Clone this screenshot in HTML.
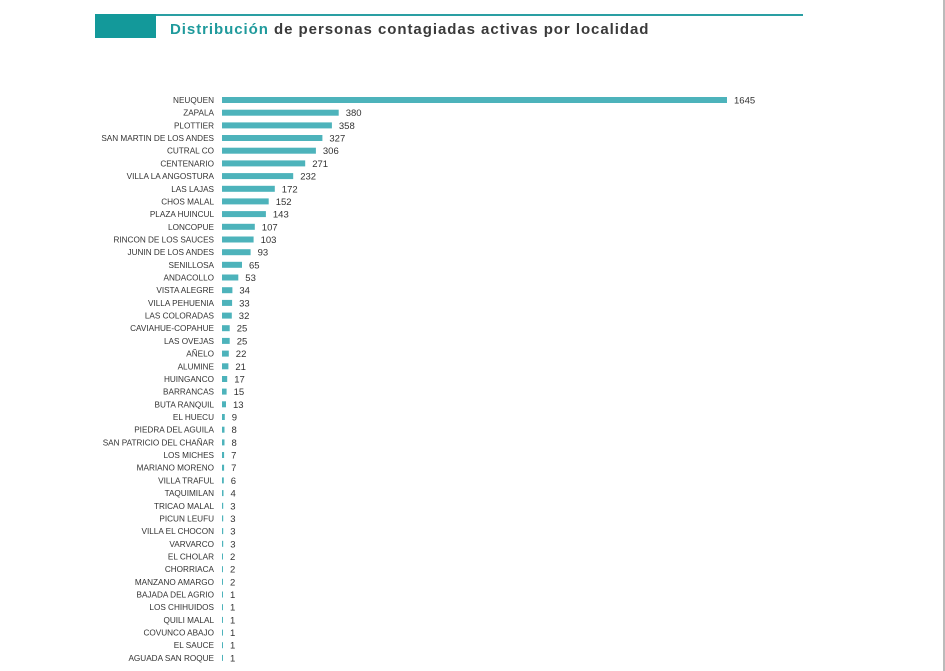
<!DOCTYPE html>
<html><head><meta charset="utf-8"><style>
html,body{margin:0;padding:0;background:#fff;}
svg{display:block;}
.l{font:8.2px "Liberation Sans",sans-serif;fill:#333;text-anchor:end;}
.v{font:9.5px "Liberation Sans",sans-serif;fill:#333;}
rect.b{fill:#4db3bb;}
</style></head><body>
<svg width="945" height="671" viewBox="0 0 945 671">
<rect x="0" y="0" width="945" height="671" fill="#fff"/>
<line x1="944" y1="0" x2="944" y2="671" stroke="#777" stroke-width="1"/>
<rect x="95" y="14" width="61" height="24" fill="#13999a"/>
<rect x="156" y="14" width="647" height="2" fill="#2a9fa3"/>
<text x="170" y="34" font-family="Liberation Sans,sans-serif" font-weight="bold" font-size="15" letter-spacing="0.95"><tspan fill="#1f9a9c">Distribución</tspan><tspan fill="#3a3a3a"> de personas contagiadas activas por localidad</tspan></text>
<g id="rows">
<g transform="translate(0,100)"><text class="l" x="214" y="3">NEUQUEN</text><rect class="b" x="222" y="-3" width="505" height="6"/><text class="v" x="734" y="3.5">1645</text></g>
<g transform="translate(0,112.7)"><text class="l" x="214" y="3">ZAPALA</text><rect class="b" x="222" y="-3" width="116.7" height="6"/><text class="v" x="345.7" y="3.5">380</text></g>
<g transform="translate(0,125.4)"><text class="l" x="214" y="3">PLOTTIER</text><rect class="b" x="222" y="-3" width="109.9" height="6"/><text class="v" x="338.9" y="3.5">358</text></g>
<g transform="translate(0,138)"><text class="l" x="214" y="3">SAN MARTIN DE LOS ANDES</text><rect class="b" x="222" y="-3" width="100.4" height="6"/><text class="v" x="329.4" y="3.5">327</text></g>
<g transform="translate(0,150.7)"><text class="l" x="214" y="3">CUTRAL CO</text><rect class="b" x="222" y="-3" width="93.9" height="6"/><text class="v" x="322.9" y="3.5">306</text></g>
<g transform="translate(0,163.4)"><text class="l" x="214" y="3">CENTENARIO</text><rect class="b" x="222" y="-3" width="83.2" height="6"/><text class="v" x="312.2" y="3.5">271</text></g>
<g transform="translate(0,176.1)"><text class="l" x="214" y="3">VILLA LA ANGOSTURA</text><rect class="b" x="222" y="-3" width="71.2" height="6"/><text class="v" x="300.2" y="3.5">232</text></g>
<g transform="translate(0,188.8)"><text class="l" x="214" y="3">LAS LAJAS</text><rect class="b" x="222" y="-3" width="52.8" height="6"/><text class="v" x="281.8" y="3.5">172</text></g>
<g transform="translate(0,201.4)"><text class="l" x="214" y="3">CHOS MALAL</text><rect class="b" x="222" y="-3" width="46.7" height="6"/><text class="v" x="275.7" y="3.5">152</text></g>
<g transform="translate(0,214.1)"><text class="l" x="214" y="3">PLAZA HUINCUL</text><rect class="b" x="222" y="-3" width="43.9" height="6"/><text class="v" x="272.9" y="3.5">143</text></g>
<g transform="translate(0,226.8)"><text class="l" x="214" y="3">LONCOPUE</text><rect class="b" x="222" y="-3" width="32.8" height="6"/><text class="v" x="261.8" y="3.5">107</text></g>
<g transform="translate(0,239.5)"><text class="l" x="214" y="3">RINCON DE LOS SAUCES</text><rect class="b" x="222" y="-3" width="31.6" height="6"/><text class="v" x="260.6" y="3.5">103</text></g>
<g transform="translate(0,252.2)"><text class="l" x="214" y="3">JUNIN DE LOS ANDES</text><rect class="b" x="222" y="-3" width="28.6" height="6"/><text class="v" x="257.6" y="3.5">93</text></g>
<g transform="translate(0,264.8)"><text class="l" x="214" y="3">SENILLOSA</text><rect class="b" x="222" y="-3" width="20" height="6"/><text class="v" x="249" y="3.5">65</text></g>
<g transform="translate(0,277.5)"><text class="l" x="214" y="3">ANDACOLLO</text><rect class="b" x="222" y="-3" width="16.3" height="6"/><text class="v" x="245.3" y="3.5">53</text></g>
<g transform="translate(0,290.2)"><text class="l" x="214" y="3">VISTA ALEGRE</text><rect class="b" x="222" y="-3" width="10.4" height="6"/><text class="v" x="239.4" y="3.5">34</text></g>
<g transform="translate(0,302.9)"><text class="l" x="214" y="3">VILLA PEHUENIA</text><rect class="b" x="222" y="-3" width="10.1" height="6"/><text class="v" x="239.1" y="3.5">33</text></g>
<g transform="translate(0,315.6)"><text class="l" x="214" y="3">LAS COLORADAS</text><rect class="b" x="222" y="-3" width="9.8" height="6"/><text class="v" x="238.8" y="3.5">32</text></g>
<g transform="translate(0,328.2)"><text class="l" x="214" y="3">CAVIAHUE-COPAHUE</text><rect class="b" x="222" y="-3" width="7.7" height="6"/><text class="v" x="236.7" y="3.5">25</text></g>
<g transform="translate(0,340.9)"><text class="l" x="214" y="3">LAS OVEJAS</text><rect class="b" x="222" y="-3" width="7.7" height="6"/><text class="v" x="236.7" y="3.5">25</text></g>
<g transform="translate(0,353.6)"><text class="l" x="214" y="3">AÑELO</text><rect class="b" x="222" y="-3" width="6.8" height="6"/><text class="v" x="235.8" y="3.5">22</text></g>
<g transform="translate(0,366.3)"><text class="l" x="214" y="3">ALUMINE</text><rect class="b" x="222" y="-3" width="6.4" height="6"/><text class="v" x="235.4" y="3.5">21</text></g>
<g transform="translate(0,379)"><text class="l" x="214" y="3">HUINGANCO</text><rect class="b" x="222" y="-3" width="5.2" height="6"/><text class="v" x="234.2" y="3.5">17</text></g>
<g transform="translate(0,391.6)"><text class="l" x="214" y="3">BARRANCAS</text><rect class="b" x="222" y="-3" width="4.6" height="6"/><text class="v" x="233.6" y="3.5">15</text></g>
<g transform="translate(0,404.3)"><text class="l" x="214" y="3">BUTA RANQUIL</text><rect class="b" x="222" y="-3" width="4" height="6"/><text class="v" x="233" y="3.5">13</text></g>
<g transform="translate(0,417)"><text class="l" x="214" y="3">EL HUECU</text><rect class="b" x="222" y="-3" width="2.8" height="6"/><text class="v" x="231.8" y="3.5">9</text></g>
<g transform="translate(0,429.7)"><text class="l" x="214" y="3">PIEDRA DEL AGUILA</text><rect class="b" x="222" y="-3" width="2.5" height="6"/><text class="v" x="231.5" y="3.5">8</text></g>
<g transform="translate(0,442.4)"><text class="l" x="214" y="3">SAN PATRICIO DEL CHAÑAR</text><rect class="b" x="222" y="-3" width="2.5" height="6"/><text class="v" x="231.5" y="3.5">8</text></g>
<g transform="translate(0,455)"><text class="l" x="214" y="3">LOS MICHES</text><rect class="b" x="222" y="-3" width="2.1" height="6"/><text class="v" x="231.1" y="3.5">7</text></g>
<g transform="translate(0,467.7)"><text class="l" x="214" y="3">MARIANO MORENO</text><rect class="b" x="222" y="-3" width="2.1" height="6"/><text class="v" x="231.1" y="3.5">7</text></g>
<g transform="translate(0,480.4)"><text class="l" x="214" y="3">VILLA TRAFUL</text><rect class="b" x="222" y="-3" width="1.8" height="6"/><text class="v" x="230.8" y="3.5">6</text></g>
<g transform="translate(0,493.1)"><text class="l" x="214" y="3">TAQUIMILAN</text><rect class="b" x="222" y="-3" width="1.5" height="6"/><text class="v" x="230.5" y="3.5">4</text></g>
<g transform="translate(0,505.8)"><text class="l" x="214" y="3">TRICAO MALAL</text><rect class="b" x="222" y="-3" width="1.2" height="6"/><text class="v" x="230.2" y="3.5">3</text></g>
<g transform="translate(0,518.4)"><text class="l" x="214" y="3">PICUN LEUFU</text><rect class="b" x="222" y="-3" width="1.2" height="6"/><text class="v" x="230.2" y="3.5">3</text></g>
<g transform="translate(0,531.1)"><text class="l" x="214" y="3">VILLA EL CHOCON</text><rect class="b" x="222" y="-3" width="1.2" height="6"/><text class="v" x="230.2" y="3.5">3</text></g>
<g transform="translate(0,543.8)"><text class="l" x="214" y="3">VARVARCO</text><rect class="b" x="222" y="-3" width="1.2" height="6"/><text class="v" x="230.2" y="3.5">3</text></g>
<g transform="translate(0,556.5)"><text class="l" x="214" y="3">EL CHOLAR</text><rect class="b" x="222" y="-3" width="1" height="6"/><text class="v" x="230" y="3.5">2</text></g>
<g transform="translate(0,569.2)"><text class="l" x="214" y="3">CHORRIACA</text><rect class="b" x="222" y="-3" width="1" height="6"/><text class="v" x="230" y="3.5">2</text></g>
<g transform="translate(0,581.8)"><text class="l" x="214" y="3">MANZANO AMARGO</text><rect class="b" x="222" y="-3" width="1" height="6"/><text class="v" x="230" y="3.5">2</text></g>
<g transform="translate(0,594.5)"><text class="l" x="214" y="3">BAJADA DEL AGRIO</text><rect class="b" x="222" y="-3" width="1" height="6"/><text class="v" x="230" y="3.5">1</text></g>
<g transform="translate(0,607.2)"><text class="l" x="214" y="3">LOS CHIHUIDOS</text><rect class="b" x="222" y="-3" width="1" height="6"/><text class="v" x="230" y="3.5">1</text></g>
<g transform="translate(0,619.9)"><text class="l" x="214" y="3">QUILI MALAL</text><rect class="b" x="222" y="-3" width="1" height="6"/><text class="v" x="230" y="3.5">1</text></g>
<g transform="translate(0,632.6)"><text class="l" x="214" y="3">COVUNCO ABAJO</text><rect class="b" x="222" y="-3" width="1" height="6"/><text class="v" x="230" y="3.5">1</text></g>
<g transform="translate(0,645.2)"><text class="l" x="214" y="3">EL SAUCE</text><rect class="b" x="222" y="-3" width="1" height="6"/><text class="v" x="230" y="3.5">1</text></g>
<g transform="translate(0,657.9)"><text class="l" x="214" y="3">AGUADA SAN ROQUE</text><rect class="b" x="222" y="-3" width="1" height="6"/><text class="v" x="230" y="3.5">1</text></g>
</g>
</svg>
</body></html>
